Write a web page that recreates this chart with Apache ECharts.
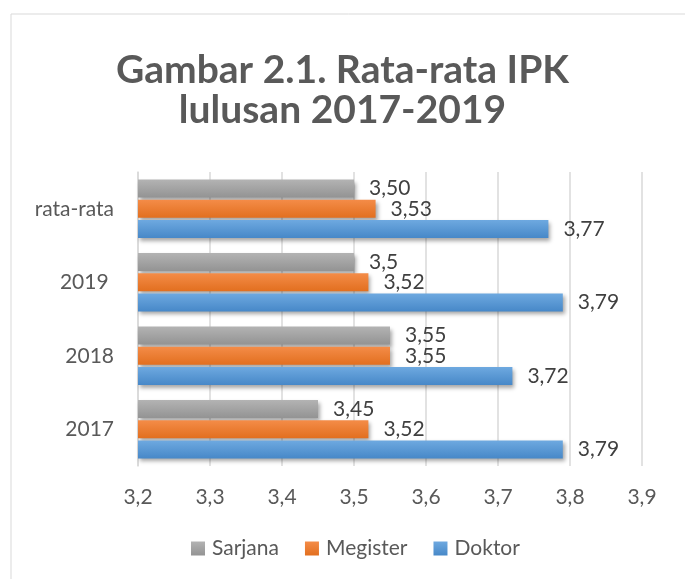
<!DOCTYPE html>
<html>
<head>
<meta charset="utf-8">
<script src="https://cdn.jsdelivr.net/npm/echarts@6/dist/echarts.min.js"></script>
<style>
  html, body { margin: 0; padding: 0; background: #fff; }
  #chart { width: 685px; height: 579px; }
</style>
</head>
<body>
<div id="chart"></div>
<script>
// data
const categories = ['2017', '2018', '2019 ', 'rata-rata'];
const sarjana = [3.45, 3.55, 3.50, 3.50];
const megister = [3.52, 3.55, 3.52, 3.53];
const doktor = [3.79, 3.72, 3.79, 3.77];
const sarjanaLabels = ['3,45', '3,55', '3,5', '3,50'];
const megisterLabels = ['3,52', '3,55', '3,52', '3,53'];
const doktorLabels = ['3,79', '3,72', '3,79', '3,77'];
const xTicks = { min: 3.2, max: 3.9, step: 0.1 };

const font = 'Lato, "Open Sans", sans-serif';

function shade(top, bottom) {
  return new echarts.graphic.LinearGradient(0, 0, 0, 1, [
    { offset: 0, color: top },
    { offset: 1, color: bottom }
  ]);
}

function barSeries(name, values, labels, top, bottom) {
  return {
    name: name,
    type: 'bar',
    data: values,
    barWidth: 18,
    barGap: '12%',
    itemStyle: {
      color: shade(top, bottom),
      shadowColor: 'rgba(0,0,0,0.35)',
      shadowBlur: 4,
      shadowOffsetX: 2,
      shadowOffsetY: 3
    },
    label: {
      show: true,
      position: 'right',
      distance: 15,
      color: '#404040',
      fontFamily: font,
      fontSize: 21,
      formatter: p => labels[p.dataIndex]
    }
  };
}

const chart = echarts.init(document.getElementById('chart'));
chart.setOption({
  backgroundColor: '#fff',
  animation: false,
  title: {
    text: 'Gambar 2.1. Rata-rata IPK\nlulusan 2017-2019',
    left: 'center',
    top: 45,
    textStyle: {
      fontFamily: font,
      fontWeight: 'bold',
      fontSize: 39,
      lineHeight: 40,
      color: '#595959'
    }
  },
  graphic: [{
    type: 'rect',
    shape: { x: 11, y: 14, width: 700, height: 600 },
    style: { fill: 'none', stroke: '#d9d9d9', lineWidth: 1 },
    z: -1
  }],
  legend: {
    data: ['Sarjana', 'Megister', 'Doktor'],
    bottom: 15,
    left: 186,
    icon: 'rect',
    itemWidth: 14,
    itemHeight: 14,
    itemGap: 26,
    textStyle: { fontFamily: font, fontSize: 21, color: '#595959', padding: [0, 0, 0, 2] }
  },
  grid: { left: 138, right: 43, top: 172, bottom: 113 },
  xAxis: {
    type: 'value',
    min: xTicks.min,
    max: xTicks.max,
    interval: xTicks.step,
    axisLine: { show: false },
    axisTick: { show: false },
    splitLine: { lineStyle: { color: '#d9d9d9', width: 1.5 } },
    axisLabel: {
      margin: 21,
      fontFamily: font,
      fontSize: 21,
      color: '#595959',
      formatter: v => v.toFixed(1).replace('.', ',')
    }
  },
  yAxis: {
    type: 'category',
    data: categories,
    axisLine: { show: true, lineStyle: { color: '#d9d9d9', width: 1.5 } },
    axisTick: { show: false },
    axisLabel: {
      margin: 24,
      fontFamily: font,
      fontSize: 21,
      color: '#595959'
    }
  },
  series: [
    barSeries('Sarjana', sarjana, sarjanaLabels, '#b3b3b3', '#939393'),
    barSeries('Megister', megister, megisterLabels, '#f48c48', '#e26f1f'),
    barSeries('Doktor', doktor, doktorLabels, '#6ea9e0', '#4788c8')
  ]
});
</script>
</body>
</html>
